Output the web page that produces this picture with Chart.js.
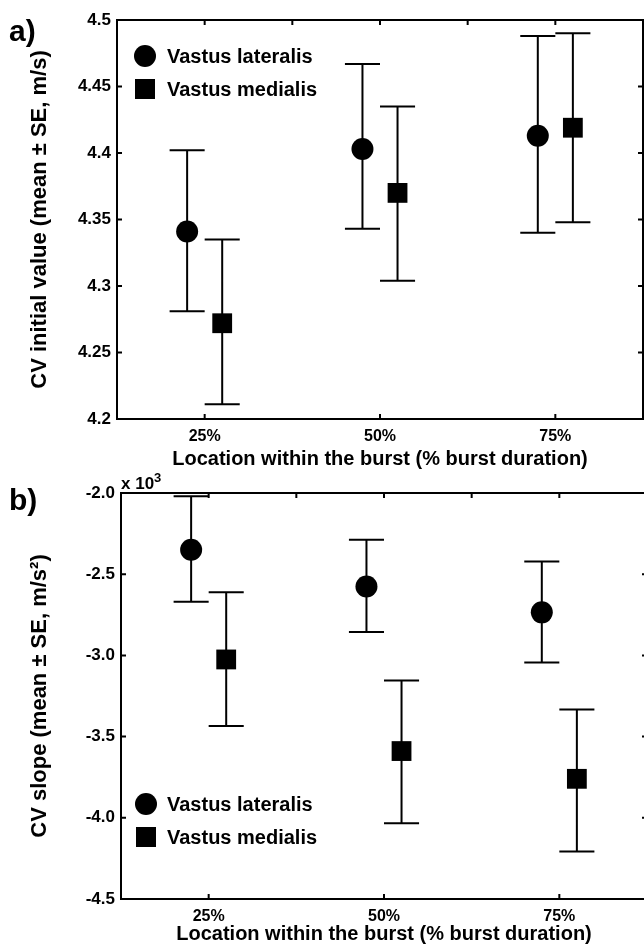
<!DOCTYPE html>
<html>
<head>
<meta charset="utf-8">
<script src="https://cdn.jsdelivr.net/npm/chart.js@4.4.1/dist/chart.umd.min.js"></script>
<style>
html, body { margin: 0; padding: 0; background: #fff; width: 644px; height: 946px; overflow: hidden; }
body { position: relative; font-family: "Liberation Sans", Arial, sans-serif; font-weight: bold; color: #000; }
canvas { position: absolute; left: 0; }
#graficaA { top: 0; }
#graficaB { top: 472px; }
.panel { position: absolute; left: 9px; font-size: 30px; line-height: 30px; }
.leyenda { position: absolute; left: 167px; font-size: 20px; line-height: 20px; white-space: nowrap; }
.circulo { position: absolute; width: 22px; height: 22px; border-radius: 50%; background: #000; }
.cuadro { position: absolute; width: 20px; height: 20px; background: #000; }
.escala { position: absolute; left: 121px; top: 475px; font-size: 17px; line-height: 17px; white-space: nowrap; }
.escala sup { font-size: 13px; position: relative; top: -7px; vertical-align: baseline; }
</style>
</head>
<body>
<canvas id="graficaA" width="644" height="472"></canvas>
<canvas id="graficaB" width="650" height="474"></canvas>

<div class="panel" style="top:16px">a)</div>
<div class="circulo" style="left:134px; top:45px"></div>
<div class="leyenda" style="top:46px">Vastus lateralis</div>
<div class="cuadro" style="left:135px; top:79px"></div>
<div class="leyenda" style="top:79px">Vastus medialis</div>

<div class="panel" style="top:485px">b)</div>
<div class="escala">x 10<sup>3</sup></div>
<div class="circulo" style="left:135px; top:793px"></div>
<div class="leyenda" style="top:794px">Vastus lateralis</div>
<div class="cuadro" style="left:136px; top:827px"></div>
<div class="leyenda" style="top:827px">Vastus medialis</div>

<script>
// posiciones dentro de la rafaga
const posiciones = [1, 2, 3];
const etiquetasX = ['25%', '50%', '75%'];
const marcasArriba = [1, 1.5, 2, 2.5, 3];
const desplVL = -0.1, desplVM = 0.1;

// a) CV valor inicial (m/s)
const vlMediaA = [4.341, 4.403, 4.413];
const vlAltoA = [4.402, 4.467, 4.488];
const vlBajoA = [4.281, 4.343, 4.340];
const vmMediaA = [4.272, 4.370, 4.419];
const vmAltoA = [4.335, 4.435, 4.490];
const vmBajoA = [4.211, 4.304, 4.348];
const marcasYA = [4.2, 4.25, 4.3, 4.35, 4.4, 4.45, 4.5];

// b) CV pendiente (x 10^3)
const vlMediaB = [-2.35, -2.576, -2.735];
const vlAltoB = [-2.02, -2.288, -2.422];
const vlBajoB = [-2.669, -2.856, -3.043];
const vmMediaB = [-3.025, -3.589, -3.76];
const vmAltoB = [-2.611, -3.154, -3.333];
const vmBajoB = [-3.434, -4.033, -4.207];
const marcasYB = [-4.5, -4.0, -3.5, -3.0, -2.5, -2.0];

const fuente = '"Liberation Sans", Arial, sans-serif';

function puntos(media, despl) {
    return posiciones.map((x, i) => ({ x: x + despl, y: media[i] }));
}

function barras(bajo, alto, despl) {
    const pts = [];
    posiciones.forEach((x, i) => {
        const c = x + despl;
        pts.push({ x: c, y: bajo[i] }, { x: c, y: alto[i] }, { x: c, y: null });
        pts.push({ x: c - 0.1, y: alto[i] }, { x: c + 0.1, y: alto[i] }, { x: c, y: null });
        pts.push({ x: c - 0.1, y: bajo[i] }, { x: c + 0.1, y: bajo[i] }, { x: c, y: null });
    });
    return pts;
}

// marco y marcas hacia dentro
const marco = {
    id: 'marco',
    afterDraw(chart, args, opts) {
        const { ctx, chartArea: a, scales } = chart;
        ctx.save();
        ctx.strokeStyle = '#000';
        ctx.lineWidth = 2;
        ctx.strokeRect(a.left, a.top, a.right - a.left, a.bottom - a.top);
        ctx.beginPath();
        opts.marcasY.forEach(v => {
            const y = scales.y.getPixelForValue(v);
            ctx.moveTo(a.left, y); ctx.lineTo(a.left + 5, y);
            ctx.moveTo(a.right, y); ctx.lineTo(a.right - 5, y);
        });
        posiciones.forEach(v => {
            const x = scales.x.getPixelForValue(v);
            ctx.moveTo(x, a.bottom); ctx.lineTo(x, a.bottom - 5);
        });
        marcasArriba.forEach(v => {
            const x = scales.x.getPixelForValue(v);
            ctx.moveTo(x, a.top); ctx.lineTo(x, a.top + 5);
        });
        ctx.stroke();
        ctx.restore();
    }
};

function crearGrafica(id, d) {
    return new Chart(document.getElementById(id), {
        type: 'scatter',
        data: {
            datasets: [
                { data: puntos(d.vlMedia, desplVL), pointStyle: 'circle', pointRadius: 11, backgroundColor: '#000', borderWidth: 0 },
                { data: puntos(d.vmMedia, desplVM), pointStyle: 'rect', pointRadius: 14, backgroundColor: '#000', borderWidth: 0 },
                { data: barras(d.vlBajo, d.vlAlto, desplVL), showLine: true, spanGaps: false, pointRadius: 0, borderColor: '#000', borderWidth: 2 },
                { data: barras(d.vmBajo, d.vmAlto, desplVM), showLine: true, spanGaps: false, pointRadius: 0, borderColor: '#000', borderWidth: 2 }
            ]
        },
        options: {
            responsive: false,
            animation: false,
            events: [],
            layout: { padding: d.padding, autoPadding: false },
            plugins: { legend: { display: false }, tooltip: { enabled: false }, marco: { marcasY: d.marcasY } },
            scales: {
                x: {
                    type: 'linear', min: 0.5, max: 3.5,
                    afterBuildTicks: s => { s.ticks = posiciones.map(v => ({ value: v })); },
                    afterFit: s => { s.height = d.altoX; s.paddingLeft = 0; s.paddingRight = 0; },
                    grid: { display: false, drawTicks: false },
                    border: { display: false },
                    ticks: { padding: 8, color: '#000', font: { family: fuente, size: 16, weight: 'bold' },
                        callback: v => etiquetasX[posiciones.indexOf(v)] || '' },
                    title: { display: true, text: 'Location within the burst (% burst duration)', color: '#000',
                        font: { family: fuente, size: 20, weight: 'bold' }, padding: { top: 0, bottom: d.padTitX } }
                },
                y: {
                    type: 'linear', min: d.min, max: d.max,
                    afterBuildTicks: s => { s.ticks = d.marcasY.map(v => ({ value: v })); },
                    afterFit: s => { s.width = d.anchoY; s.paddingTop = 0; s.paddingBottom = 0; },
                    grid: { display: false, drawTicks: false },
                    border: { display: false },
                    ticks: { padding: 6, color: '#000', font: { family: fuente, size: 17, weight: 'bold' }, callback: d.formato },
                    title: { display: true, text: d.tituloY, color: '#000',
                        font: { family: fuente, size: 22, weight: 'bold' }, padding: { top: 27, bottom: 0 } }
                }
            }
        },
        plugins: [marco]
    });
}

crearGrafica('graficaA', {
    vlMedia: vlMediaA, vlAlto: vlAltoA, vlBajo: vlBajoA,
    vmMedia: vmMediaA, vmAlto: vmAltoA, vmBajo: vmBajoA,
    marcasY: marcasYA, min: 4.2, max: 4.5,
    formato: v => String(+v.toFixed(2)),
    tituloY: 'CV initial value (mean \u00b1 SE, m/s)',
    padding: { left: 0, top: 20, right: 1, bottom: 0 },
    anchoY: 117, altoX: 53, padTitX: 1
});

crearGrafica('graficaB', {
    vlMedia: vlMediaB, vlAlto: vlAltoB, vlBajo: vlBajoB,
    vmMedia: vmMediaB, vmAlto: vmAltoB, vmBajo: vmBajoB,
    marcasY: marcasYB, min: -4.5, max: -2.0,
    formato: v => v.toFixed(1),
    tituloY: 'CV slope (mean \u00b1 SE, m/s\u00b2)',
    padding: { left: 0, top: 21, right: 3, bottom: 0 },
    anchoY: 121, altoX: 47, padTitX: 0
});
</script>
</body>
</html>
